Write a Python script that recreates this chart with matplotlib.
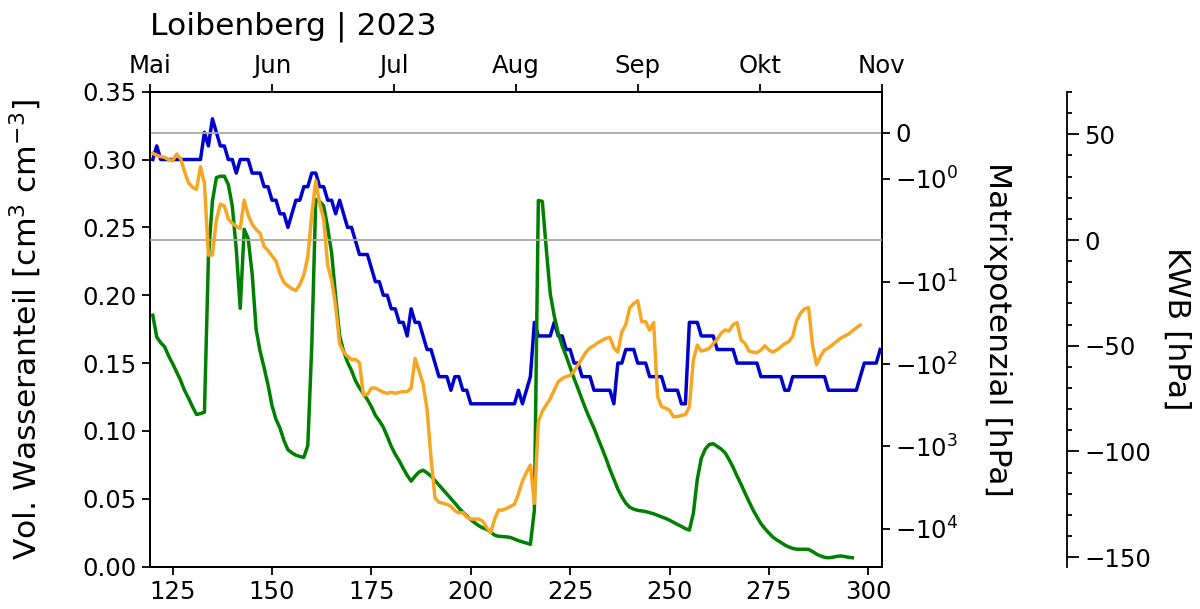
import numpy as np
import matplotlib
matplotlib.use("Agg")
import matplotlib.pyplot as plt
from matplotlib.ticker import FixedLocator, FixedFormatter, MultipleLocator, NullLocator

plt.rcParams['font.family'] = ['DejaVu Sans']

# Volumetric water content [cm3 cm-3], daily from DOY 120
theta = [
    0.30, 0.31, 0.30, 0.30, 0.30, 0.30, 0.30, 0.30, 0.30, 0.30,   # 120
    0.30, 0.30, 0.30, 0.32, 0.31, 0.33, 0.32, 0.31, 0.31, 0.30,   # 130
    0.30, 0.29, 0.30, 0.30, 0.30, 0.29, 0.29, 0.29, 0.28, 0.28,   # 140
    0.27, 0.27, 0.26, 0.26, 0.25, 0.26, 0.27, 0.27, 0.28, 0.28,   # 150
    0.29, 0.29, 0.28, 0.28, 0.27, 0.27, 0.26, 0.27, 0.26, 0.25,   # 160
    0.25, 0.24, 0.23, 0.23, 0.23, 0.22, 0.21, 0.21, 0.20, 0.20,   # 170
    0.19, 0.19, 0.18, 0.18, 0.17, 0.19, 0.18, 0.18, 0.17, 0.16,   # 180
    0.16, 0.15, 0.14, 0.14, 0.14, 0.13, 0.14, 0.14, 0.13, 0.13,   # 190
    0.12, 0.12, 0.12, 0.12, 0.12, 0.12, 0.12, 0.12, 0.12, 0.12,   # 200
    0.12, 0.12, 0.13, 0.12, 0.13, 0.14, 0.18, 0.17, 0.17, 0.17,   # 210
    0.17, 0.18, 0.17, 0.17, 0.16, 0.16, 0.15, 0.15, 0.14, 0.14,   # 220
    0.14, 0.13, 0.13, 0.13, 0.13, 0.13, 0.12, 0.15, 0.15, 0.16,   # 230
    0.16, 0.16, 0.15, 0.15, 0.15, 0.14, 0.14, 0.14, 0.14, 0.13,   # 240
    0.13, 0.13, 0.13, 0.12, 0.12, 0.18, 0.18, 0.18, 0.17, 0.17,   # 250
    0.17, 0.17, 0.16, 0.16, 0.16, 0.16, 0.16, 0.15, 0.15, 0.15,   # 260
    0.15, 0.15, 0.15, 0.14, 0.14, 0.14, 0.14, 0.14, 0.14, 0.13,   # 270
    0.13, 0.14, 0.14, 0.14, 0.14, 0.14, 0.14, 0.14, 0.14, 0.14,   # 280
    0.13, 0.13, 0.13, 0.13, 0.13, 0.13, 0.13, 0.13, 0.14, 0.15,   # 290
    0.15, 0.15, 0.15, 0.16,                                       # 300
]

# Matric potential [hPa], daily from DOY 120
psi = [
    -25.5, -47, -55, -62, -80, -99, -125, -158, -210, -260,                  # 120
    -330, -410, -400, -384, -5, -1.5, -0.98, -0.95, -0.95, -1.13,            # 130
    -1.6, -4, -21, -2.3, -3.0, -8, -38, -70, -110, -180,                     # 140
    -320, -470, -600, -850, -1100, -1200, -1280, -1330, -1360, -980,         # 150
    -60, -1.46, -1.5, -1.6, -2.2, -4.5, -15, -45, -70, -95,                  # 160
    -120, -160, -195, -230, -270, -330, -420, -490, -586, -760,              # 170
    -1000, -1250, -1500, -1850, -2250, -2650, -2300, -2050, -1950, -2100,    # 180
    -2300, -2600, -2950, -3350, -3800, -4300, -4900, -5600, -6300, -7000,    # 190
    -7800, -8500, -9200, -9800, -10200, -11000, -12000, -12400, -12500, -12600,  # 200
    -12800, -13400, -14000, -14500, -15000, -15500, -6000, -1.48, -1.5, -4,  # 210
    -14, -26, -42, -60, -80, -110, -150, -200, -270, -360,                   # 220
    -470, -600, -800, -1050, -1400, -1900, -2500, -3300, -4100, -4900,       # 230
    -5500, -5800, -6000, -6100, -6200, -6400, -6600, -6900, -7200, -7500,    # 240
    -7900, -8400, -8900, -9400, -10000, -10400, -6500, -2500, -1400, -1080,  # 250
    -950, -930, -1000, -1080, -1200, -1450, -1800, -2300, -2900, -3700,      # 260
    -4700, -5900, -7200, -8700, -10000, -11300, -12700, -13700, -14700, -15800,  # 270
    -16700, -17400, -17800, -17800, -17800, -17900, -19000, -20400, -21500, -22300,  # 280
    -22600, -22300, -21800, -21500, -21800, -22300, -22600,                  # 290
]

# Climatic water balance KWB [hPa], daily from DOY 120
kwb = [
    41, 40, 39.5, 39.1, 38, 37.5, 40.7, 38.6, 32.3, 27,                      # 120
    25, 24, 34.7, 26.8, -7.1, -7.1, 9.5, 17, 16.1, 10,                       # 130
    8, 6.5, 5.5, 18.9, 11.8, 7.5, 5, 3.2, -3, -5,                            # 140
    -7.5, -10, -16, -20, -21.7, -23, -23.9, -21, -16.5, -8,                  # 150
    12, 28, 17, 10, -12, -19, -31, -49, -53, -55,                            # 160
    -56.5, -56.5, -58, -73.4, -73, -70, -70, -71, -72, -72.5,                # 170
    -72, -72.5, -72, -71.7, -71.7, -70, -56, -62, -68, -80,                  # 180
    -103, -122, -124, -124.5, -125, -126, -128, -129, -129, -131,            # 190
    -132, -132, -132, -133, -136, -138.4, -132, -127.7, -127.7, -127,        # 200
    -126, -125, -120, -114, -110, -106.4, -124.6, -86, -81, -78,             # 210
    -75, -71, -67, -65.5, -64.6, -64, -62, -59, -56, -53,                    # 220
    -51, -50, -48.5, -47.5, -46.5, -46, -51, -53, -43.4, -40,                # 230
    -32, -30, -28.7, -38.6, -38.6, -42.6, -39, -74, -78.8, -79.5,            # 240
    -80.5, -83.6, -83.5, -83, -82.5, -79, -56.7, -49.7, -52.5, -52,          # 250
    -51.2, -49, -47, -44, -42.5, -43, -40, -39.1, -47.3, -48.9,              # 260
    -52.5, -53, -53.3, -52, -50, -52, -53, -52, -50.5, -49,                  # 270
    -48.1, -45.5, -38, -34.5, -32.5, -32, -50, -59, -55, -52,                # 280
    -51, -49.5, -48, -46.5, -45.5, -44.5, -43, -41.5, -40.2,                 # 290
]

doy_theta = np.arange(120, 120 + len(theta))
doy_psi = np.arange(120, 120 + len(psi))
doy_kwb = np.arange(120, 120 + len(kwb))

months = ['Mai', 'Jun', 'Jul', 'Aug', 'Sep', 'Okt', 'Nov']
psi_ticks = [0, -1, -10, -100, -1000, -10000]
psi_labels = ['0', r'$-10^{0}$', r'$-10^{1}$', r'$-10^{2}$', r'$-10^{3}$', r'$-10^{4}$']
kwb_ticks = [-150, -100, -50, 0, 50]

TICK_FS = 17.6
LABEL_FS = 22.6
LW = 2.5
TICK_LEN = 5.8
TICK_W = 1.3

fig = plt.figure(figsize=(12, 6.09), dpi=100)
ax = fig.add_axes([0.125, 0.0695, 0.6098, 0.7800])

for s in ax.spines.values():
    s.set_linewidth(TICK_W)

# water content on the left axis
ax.plot(doy_theta, theta, color='mediumblue', lw=LW, zorder=3)
ax.set_xlim(119.3, 303.4)
ax.set_ylim(0, 0.35)
ax.xaxis.set_major_locator(MultipleLocator(25))
ax.yaxis.set_major_locator(MultipleLocator(0.05))
ax.tick_params(labelsize=TICK_FS, length=TICK_LEN, width=TICK_W, pad=4)
ax.set_ylabel(r'Vol. Wasseranteil [cm$^3$ cm$^{-3}$]', fontsize=LABEL_FS)
ax.yaxis.set_label_coords(-0.145, 0.5)

# month axis on top
top = ax.twiny()
top.set_xlim(0, len(months) - 1)
top.set_xticks(range(len(months)))
top.set_xticklabels(months)
top.tick_params(labelsize=TICK_FS, length=TICK_LEN, width=TICK_W, pad=4)
for s in top.spines.values():
    s.set_linewidth(TICK_W)

# matric potential, symmetric log axis
axp = ax.twinx()
axp.set_yscale('symlog', linthresh=2, linscale=1)
axp.axhline(0, color='#a8a8a8', lw=1.3, zorder=1)
axp.plot(doy_psi, psi, color='green', lw=LW, zorder=3)
axp.set_ylim(-29000, 0.9)
axp.yaxis.set_major_locator(FixedLocator(psi_ticks))
axp.yaxis.set_major_formatter(FixedFormatter(psi_labels))
axp.yaxis.set_minor_locator(NullLocator())
axp.tick_params(labelsize=TICK_FS, length=TICK_LEN, width=TICK_W, pad=4)
axp.set_ylabel('Matrixpotenzial [hPa]', fontsize=LABEL_FS, rotation=270, va='bottom')
axp.yaxis.set_label_coords(1.138, 0.5)
for s in axp.spines.values():
    s.set_linewidth(TICK_W)

# climatic water balance on an offset axis
axk = ax.twinx()
axk.spines['right'].set_position(('axes', 1.2526))
axk.set_frame_on(True)
axk.patch.set_visible(False)
for name, s in axk.spines.items():
    s.set_visible(name == 'right')
    s.set_linewidth(TICK_W)
axk.axhline(0, color='#a8a8a8', lw=1.3, zorder=1)
axk.plot(doy_kwb, kwb, color='#f5a623', lw=LW, zorder=3)
axk.set_ylim(-154.5, 70.2)
axk.yaxis.set_major_locator(FixedLocator(kwb_ticks))
axk.yaxis.set_minor_locator(MultipleLocator(10))
axk.tick_params(which='major', labelsize=TICK_FS, length=8.5, width=TICK_W, pad=4)
axk.tick_params(which='minor', length=3.6, width=TICK_W)
axk.set_ylabel('KWB [hPa]', fontsize=LABEL_FS, rotation=270, va='bottom')
axk.yaxis.set_label_coords(1.383, 0.5)

ax.set_title('Loibenberg | 2023', loc='left', fontsize=LABEL_FS, pad=14)

fig.savefig('out.png', dpi=100)
